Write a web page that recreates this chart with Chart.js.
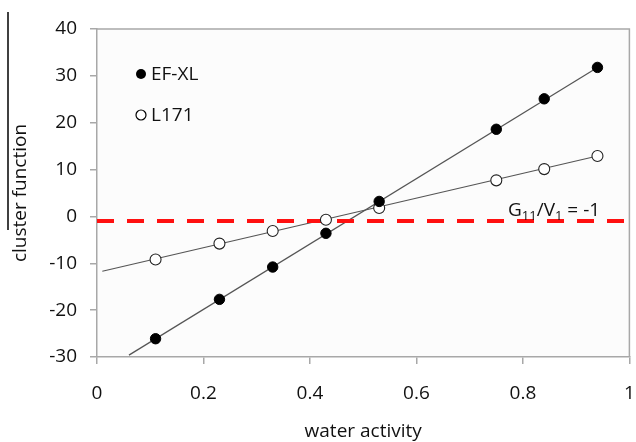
<!DOCTYPE html>
<html>
<head>
<meta charset="utf-8">
<script src="https://cdn.jsdelivr.net/npm/chart.js@4"></script>
<style>
	html, body { margin: 0; padding: 0; background: #ffffff; }
	#wrap { width: 636px; height: 442px; }
</style>
</head>
<body>
<div id="wrap"><canvas id="chart"></canvas></div>
<script>
// water activity of each sample
const waterActivity = [0.11, 0.23, 0.33, 0.43, 0.53, 0.75, 0.84, 0.94];
// cluster function
const efxlValues = [-26.1, -17.7, -10.8, -3.6, 3.2, 18.6, 25.1, 31.8];
const l171Values = [-9.2, -5.8, -3.1, -0.7, 1.8, 7.7, 10.1, 12.9];
// ends of the fitted straight lines
const efxlFitX = [0.06, 0.94];
const efxlFitY = [-29.6, 31.8];
const l171FitX = [0.01, 0.94];
const l171FitY = [-11.7, 12.9];
// reference level G11/V1 = -1
const refX = [0, 1];
const refY = [-1, -1];
// axis ticks
const xTicks = [0, 0.2, 0.4, 0.6, 0.8, 1];
const yTicks = [-30, -20, -10, 0, 10, 20, 30, 40];

const seriesNames = ['EF-XL', 'L171'];
const xTitle = 'water activity';
const yTitle = 'cluster function';
const refLabel = ['G', '11', '/V', '1', ' = -1']; // normal / subscript alternating

const FONT = 'Open Sans';
const SIZE = 19;
const TEXT = '#111111';
const AXIS = '#a8a8a8';

function pairs(xs, ys) {
	return xs.map((x, i) => ({ x: x, y: ys[i] }));
}

// fond de la zone de tracé, cadre et petite barre à gauche
const frame = {
	id: 'frame',
	beforeDraw(chart) {
		const { ctx, chartArea: a } = chart;
		ctx.save();
		ctx.fillStyle = '#fcfcfc';
		ctx.fillRect(a.left, a.top, a.right - a.left, a.bottom - a.top);
		ctx.restore();
	},
	afterDraw(chart) {
		const { ctx, chartArea: a } = chart;
		ctx.save();
		ctx.strokeStyle = AXIS;
		ctx.lineWidth = 1.5;
		ctx.beginPath();
		ctx.moveTo(a.left, a.top);
		ctx.lineTo(a.right, a.top);
		ctx.lineTo(a.right, a.bottom);
		ctx.stroke();
		ctx.strokeStyle = '#000000';
		ctx.lineWidth = 1.5;
		ctx.beginPath();
		ctx.moveTo(8, 12);
		ctx.lineTo(8, 230);
		ctx.stroke();
		ctx.restore();
	}
};

// legende dans le coin haut gauche + texte G11/V1
const notes = {
	id: 'notes',
	afterDatasetsDraw(chart) {
		const ctx = chart.ctx;
		ctx.save();
		ctx.font = SIZE + 'px "' + FONT + '"';
		ctx.textBaseline = 'middle';
		ctx.fillStyle = TEXT;
		const rows = [74, 115];
		rows.forEach((y, i) => {
			ctx.beginPath();
			ctx.arc(141, y, 5, 0, Math.PI * 2);
			if (i === 0) {
				ctx.fillStyle = '#000000';
				ctx.fill();
			} else {
				ctx.fillStyle = '#ffffff';
				ctx.fill();
				ctx.lineWidth = 1.2;
				ctx.strokeStyle = '#000000';
				ctx.stroke();
			}
			ctx.fillStyle = TEXT;
			ctx.fillText(seriesNames[i], 151, y + 1);
		});

		// label on the dashed line
		const xs = chart.scales.x, ys = chart.scales.y;
		let px = xs.getPixelForValue(0.772);
		const base = ys.getPixelForValue(0);
		ctx.textBaseline = 'alphabetic';
		refLabel.forEach((part, i) => {
			if (i % 2 === 1) {
				ctx.font = '13px "' + FONT + '"';
				ctx.fillText(part, px, base + 4);
			} else {
				ctx.font = SIZE + 'px "' + FONT + '"';
				ctx.fillText(part, px, base);
			}
			px += ctx.measureText(part).width;
		});
		ctx.restore();
	}
};

const data = {
	datasets: [
		{
			label: seriesNames[0],
			data: pairs(waterActivity, efxlValues),
			backgroundColor: '#000000',
			borderColor: '#000000',
			pointRadius: 5.2,
			pointBorderWidth: 1,
			showLine: false,
		},
		{
			label: seriesNames[1],
			data: pairs(waterActivity, l171Values),
			backgroundColor: '#ffffff',
			borderColor: '#222222',
			pointRadius: 5.5,
			pointBorderWidth: 1.1,
			showLine: false,
		},
		{
			label: 'ref',
			data: pairs(refX, refY),
			showLine: true,
			borderColor: '#ff1010',
			borderWidth: 4,
			borderDash: [17, 13],
			pointRadius: 0,
		},
		{
			label: 'fit EF-XL',
			data: pairs(efxlFitX, efxlFitY),
			showLine: true,
			borderColor: '#555555',
			borderWidth: 1.2,
			pointRadius: 0,
		},
		{
			label: 'fit L171',
			data: pairs(l171FitX, l171FitY),
			showLine: true,
			borderColor: '#555555',
			borderWidth: 1.2,
			pointRadius: 0,
		},
	],
};

const config = {
	type: 'scatter',
	data: data,
	options: {
		responsive: true,
		maintainAspectRatio: false,
		animation: false,
		layout: {
			padding: { top: 29, right: 4, left: 0, bottom: 0 },
		},
		plugins: {
			legend: { display: false },
			tooltip: { enabled: false },
		},
		scales: {
			x: {
				type: 'linear',
				min: 0,
				max: 1,
				afterBuildTicks: (s) => { s.ticks = xTicks.map((v) => ({ value: v })); },
				afterFit: (s) => {
					s.height = 85;
					s.paddingLeft = 0;
					s.paddingRight = 0;
				},
				grid: {
					drawOnChartArea: false,
					drawTicks: true,
					tickLength: 7,
					color: AXIS,
					lineWidth: 1.5,
				},
				border: { color: AXIS, width: 1.5 },
				ticks: {
					color: TEXT,
					padding: 18,
					maxRotation: 0,
					font: { family: FONT, size: SIZE },
					callback: (v) => String(v),
				},
				title: {
					display: true,
					text: xTitle,
					color: TEXT,
					padding: { top: 0, bottom: -1 },
					font: { family: FONT, size: SIZE },
				},
			},
			y: {
				type: 'linear',
				min: -30,
				max: 40,
				afterBuildTicks: (s) => { s.ticks = yTicks.map((v) => ({ value: v })); },
				afterFit: (s) => {
					s.width = 97;
					s.paddingTop = 0;
					s.paddingBottom = 0;
				},
				grid: {
					drawOnChartArea: false,
					drawTicks: true,
					tickLength: 7,
					color: AXIS,
					lineWidth: 1.5,
				},
				border: { color: AXIS, width: 1.5 },
				ticks: {
					color: TEXT,
					padding: 13,
					font: { family: FONT, size: SIZE },
				},
				title: {
					display: true,
					text: yTitle,
					color: TEXT,
					padding: { top: 9, bottom: 0 },
					font: { family: FONT, size: SIZE },
				},
			},
		},
	},
	plugins: [frame, notes],
};

const myChart = new Chart(document.getElementById('chart'), config);
</script>
</body>
</html>
